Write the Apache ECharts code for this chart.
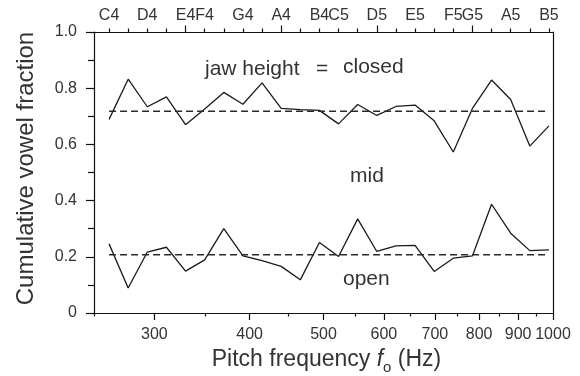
<!DOCTYPE html>
<html>
<head>
<meta charset="utf-8">
<script src="https://cdn.jsdelivr.net/npm/echarts@6/dist/echarts.min.js"></script>
<style>html,body{margin:0;padding:0;background:#fff}#c{width:580px;height:376px}</style>
</head>
<body>
<div id="c"></div>
<script>
// Semitone note names and frequencies (Hz), C4..B5
var noteNames = ['C4','C#4','D4','D#4','E4','F4','F#4','G4','G#4','A4','A#4','B4',
                 'C5','C#5','D5','D#5','E5','F5','F#5','G5','G#5','A5','A#5','B5'];
var noteFreqs = [261.63,277.18,293.66,311.13,329.63,349.23,369.99,392.00,415.30,440.00,466.16,493.88,
                 523.25,554.37,587.33,622.25,659.26,698.46,739.99,783.99,830.61,880.00,932.33,987.77];
// Cumulative fraction: closed + mid boundary (upper curve) and open boundary (lower curve)
var upperValues = [0.689,0.832,0.734,0.769,0.670,0.726,0.785,0.743,0.819,0.728,0.724,0.721,
                   0.673,0.742,0.703,0.735,0.740,0.684,0.573,0.728,0.829,0.760,0.594,0.666];
var lowerValues = [0.246,0.089,0.217,0.234,0.149,0.189,0.300,0.203,0.186,0.166,0.118,0.251,
                   0.201,0.335,0.219,0.239,0.241,0.148,0.195,0.203,0.387,0.284,0.222,0.225];
var upperMean = 0.718;
var lowerMean = 0.207;
// Tick labels
var bottomMajorTicks = [300,400,500,600,700,800,900,1000];
var bottomMinorTicks = [250,350,450,550,650,750,850,950];
// top labels and the semitone slot each label sits on (as printed in the figure)
var topLabelNotes = ['C4','D4','E4','F4','G4','A4','B4','C5','D5','E5','F5','G5','A5','B5'];
var topLabelSlots = ['C4','D4','E4','F4','G4','A4','B4','C5','D5','E5','F#5','G5','A5','B5'];
var topLongTickNotes = ['E4','A4','D5','G5'];
var xMin = 250, xMax = 1000;

var L = Math.log10;
function freqOf(n){ return noteFreqs[noteNames.indexOf(n)]; }
var FONT = 'Liberation Sans, Arial, Helvetica, sans-serif';
var TXT = '#333';
var LINE = '#111';

var upperData = noteFreqs.map(function(f,i){ return [L(f), upperValues[i]]; });
var lowerData = noteFreqs.map(function(f,i){ return [L(f), lowerValues[i]]; });
var firstX = L(noteFreqs[0]), lastX = L(noteFreqs[noteFreqs.length-1]);

var topLabelVals = topLabelSlots.map(function(n){ return L(freqOf(n)); });
var topLongVals = topLongTickNotes.map(function(n){ return L(freqOf(n)); });
var topShortVals = noteNames.filter(function(n){ return topLongTickNotes.indexOf(n) < 0; })
                            .map(function(n){ return L(freqOf(n)); });

function baseX(pos){
  return {
    type:'value', position:pos, min:L(xMin), max:L(xMax),
    splitLine:{show:false},
    axisLine:{show:false, lineStyle:{color:LINE, width:1.2}},
    axisTick:{show:false},
    axisLabel:{show:false}
  };
}
var x0 = baseX('bottom');
x0.axisLine.show = true;
x0.axisTick = {show:true, length:7, lineStyle:{color:LINE, width:1.2}, customValues: bottomMajorTicks.map(L)};
x0.axisLabel = {show:true, customValues: bottomMajorTicks.map(L), margin:14,
  fontFamily:FONT, fontSize:16, color:TXT,
  formatter:function(v){ return String(Math.round(Math.pow(10,v))); }};
x0.name = '{a|Pitch frequency }{f|f}{s|o}{a| (Hz)}';
x0.nameLocation = 'middle';
x0.nameGap = 30;
x0.nameTextStyle = {padding:[0,0,0,6], rich:{
  a:{fontFamily:FONT, fontSize:23, color:TXT},
  f:{fontFamily:FONT, fontSize:23, color:TXT, fontStyle:'italic'},
  s:{fontFamily:FONT, fontSize:15, color:TXT, padding:[16,0,0,0]}
}};
var x1 = baseX('bottom');
x1.axisTick = {show:true, length:3.5, lineStyle:{color:LINE, width:1.2}, customValues: bottomMinorTicks.map(L)};
var x2 = baseX('top');
x2.axisLine.show = true;
x2.axisTick = {show:true, length:3.5, lineStyle:{color:LINE, width:1.2}, customValues: topShortVals};
var x3 = baseX('top');
x3.axisTick = {show:true, length:6.5, lineStyle:{color:LINE, width:1.2}, customValues: topLongVals};
x3.axisLabel = {show:true, customValues: topLabelVals, margin:8,
  fontFamily:FONT, fontSize:16, color:TXT,
  formatter:function(v){
    for (var i=0;i<topLabelVals.length;i++){ if (Math.abs(topLabelVals[i]-v)<1e-6) return topLabelNotes[i]; }
    return '';
  }};

var option = {
  animation:false,
  backgroundColor:'#fff',
  grid:{left:94, right:27, top:32, bottom:63, containLabel:false, outerBoundsMode:'none'},
  xAxis:[x0,x1,x2,x3],
  yAxis:[{
    type:'value', min:0, max:1, interval:0.2, position:'left',
    splitLine:{show:false},
    axisLine:{show:true, lineStyle:{color:LINE, width:1.2}},
    axisTick:{show:true, length:8, lineStyle:{color:LINE, width:1.2}},
    minorTick:{show:true, splitNumber:2, length:6, lineStyle:{color:LINE, width:1.2}},
    axisLabel:{fontFamily:FONT, fontSize:16, color:TXT, margin:17,
      formatter:function(v){ return v===0 ? '0' : v.toFixed(1); }},
    name:'Cumulative vowel fraction', nameLocation:'middle', nameRotate:90, nameGap:56,
    nameTextStyle:{fontFamily:FONT, fontSize:24, color:TXT, padding:[0,0,0,8]}
  },{
    type:'value', min:0, max:1, position:'right',
    splitLine:{show:false},
    axisLine:{show:true, lineStyle:{color:LINE, width:1.2}},
    axisTick:{show:false}, axisLabel:{show:false}
  }],
  series:[
    {type:'line', data:upperData, symbol:'none', lineStyle:{color:'#1a1a1a', width:1.3}},
    {type:'line', data:lowerData, symbol:'none', lineStyle:{color:'#1a1a1a', width:1.3}},
    {type:'line', data:[[firstX, upperMean],[lastX, upperMean]], symbol:'none',
      lineStyle:{color:'#2a2a2a', width:1.5, type:[7,4]}},
    {type:'line', data:[[firstX, lowerMean],[lastX, lowerMean]], symbol:'none',
      lineStyle:{color:'#2a2a2a', width:1.5, type:[7,4]}}
  ],
  graphic:[
    {type:'text', left:205, top:59, style:{text:'jaw height', font:'21px '+FONT, fill:TXT}},
    {type:'text', left:316, top:59, style:{text:'=', font:'21px '+FONT, fill:TXT}},
    {type:'text', left:343, top:56.5, style:{text:'closed', font:'21px '+FONT, fill:TXT}},
    {type:'text', left:350, top:165.5, style:{text:'mid', font:'21px '+FONT, fill:TXT}},
    {type:'text', left:343, top:268.5, style:{text:'open', font:'21px '+FONT, fill:TXT}}
  ]
};
var chart = echarts.init(document.getElementById('c'));
chart.setOption(option);
</script>
</body>
</html>
